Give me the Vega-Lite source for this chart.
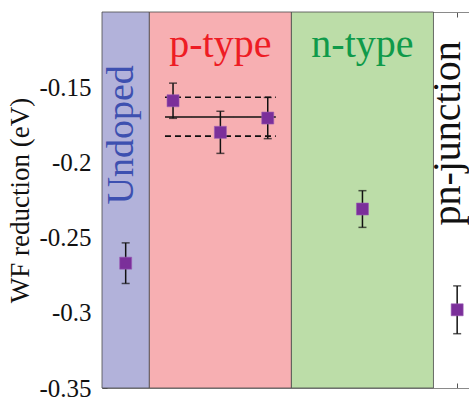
{
  "$schema": "https://vega.github.io/schema/vega-lite/v6.json",
  "autosize": "none",
  "padding": {"left": 102, "top": 12, "right": 0, "bottom": 12},
  "width": 367,
  "height": 376,
  "background": "white",
  "config": {
    "view": {"stroke": null},
    "font": "Liberation Serif",
    "axis": {"grid": false, "domainColor": "#8a8a8a", "tickColor": "#555", "labelFont": "Liberation Serif", "titleFont": "Liberation Serif", "labelColor": "#111", "titleColor": "#111", "titleFontWeight": "normal"}
  },
  "datasets": {
    "pts": [
      {"group": "Undoped", "x": 1, "y": -0.267, "lo": -0.2805, "hi": -0.2535},
      {"group": "p-type", "x": 2, "y": -0.159, "lo": -0.1707, "hi": -0.1473},
      {"group": "p-type", "x": 3, "y": -0.18, "lo": -0.194, "hi": -0.166},
      {"group": "p-type", "x": 4, "y": -0.1705, "lo": -0.1842, "hi": -0.1568},
      {"group": "n-type", "x": 6, "y": -0.231, "lo": -0.2432, "hi": -0.2188},
      {"group": "pn-junction", "x": 8, "y": -0.298, "lo": -0.3139, "hi": -0.2821}
    ]
  },
  "layer": [
    {
      "data": {"values": [
        {"band": "Undoped", "x0": 0.5, "x1": 1.5},
        {"band": "p-type", "x0": 1.5, "x1": 4.5},
        {"band": "n-type", "x0": 4.5, "x1": 7.5}
      ]},
      "mark": {"type": "rect", "stroke": "#4a4a4a", "strokeWidth": 0.8},
      "encoding": {
        "x": {"field": "x0", "type": "quantitative", "scale": {"domain": [0.5, 8.25], "nice": false, "zero": false},
              "axis": {"orient": "bottom", "values": [1,2,3,4,5,6,7,8], "labels": false, "tickSize": -5, "title": null}},
        "x2": {"field": "x1"},
        "y": {"datum": -0.35, "type": "quantitative", "scale": {"domain": [-0.35, -0.1], "nice": false, "zero": false},
              "axis": {"values": [-0.35, -0.3, -0.25, -0.2, -0.15], "format": ".2~f", "labelExpr": "replace(datum.label, '\u2212', '-')", "tickSize": -5, "labelPadding": 16, "labelFontSize": 25, "titleFontSize": 27, "title": "WF reduction (eV)", "titlePadding": 4}},
        "y2": {"datum": -0.1},
        "color": {"field": "band", "type": "nominal", "scale": {"domain": ["Undoped", "p-type", "n-type"], "range": ["#b2b2da", "#f7afb2", "#bcdda8"]}, "legend": null}
      }
    },
    {
      "data": {"values": [
        {"kind": "mean", "xa": 1.83, "xb": 4.17, "v": -0.1698},
        {"kind": "spread", "xa": 1.83, "xb": 4.17, "v": -0.1567},
        {"kind": "spread", "xa": 1.83, "xb": 4.17, "v": -0.1825}
      ]},
      "mark": {"type": "rule", "color": "#111", "strokeWidth": 1.6},
      "encoding": {
        "x": {"field": "xa", "type": "quantitative", "axis": null},
        "x2": {"field": "xb"},
        "y": {"field": "v", "type": "quantitative", "title": "WF reduction (eV)"},
        "strokeDash": {"field": "kind", "type": "nominal", "scale": {"domain": ["mean", "spread"], "range": [[1, 0], [6, 4]]}, "legend": null}
      }
    },
    {
      "data": {"name": "pts"},
      "mark": {"type": "rule", "color": "#111", "strokeWidth": 1.5},
      "encoding": {
        "x": {"field": "x", "type": "quantitative", "axis": null},
        "y": {"field": "lo", "type": "quantitative", "title": "WF reduction (eV)"},
        "y2": {"field": "hi"}
      }
    },
    {
      "data": {"name": "pts"},
      "mark": {"type": "tick", "orient": "horizontal", "color": "#111", "size": 8, "thickness": 1.5},
      "encoding": {
        "x": {"field": "x", "type": "quantitative", "axis": null},
        "y": {"field": "lo", "type": "quantitative", "title": "WF reduction (eV)"}
      }
    },
    {
      "data": {"name": "pts"},
      "mark": {"type": "tick", "orient": "horizontal", "color": "#111", "size": 8, "thickness": 1.5},
      "encoding": {
        "x": {"field": "x", "type": "quantitative", "axis": null},
        "y": {"field": "hi", "type": "quantitative", "title": "WF reduction (eV)"}
      }
    },
    {
      "data": {"name": "pts"},
      "mark": {"type": "point", "shape": "square", "filled": true, "size": 144, "color": "#7b2f9a", "opacity": 1, "stroke": "#9a5bb5", "strokeWidth": 0.6},
      "encoding": {
        "x": {"field": "x", "type": "quantitative", "axis": {"orient": "top", "values": [1,2,3,4,5,6,7,8], "labels": false, "tickSize": -5, "title": null}},
        "y": {"field": "y", "type": "quantitative", "title": "WF reduction (eV)"}
      }
    },
    {
      "data": {"values": [{"label": "p-type", "x": 3, "y": -0.13}]},
      "mark": {"type": "text", "font": "Liberation Serif", "fontSize": 40, "align": "center", "baseline": "alphabetic", "color": "#ee1c24"},
      "encoding": {
        "x": {"field": "x", "type": "quantitative", "axis": null},
        "y": {"field": "y", "type": "quantitative", "title": "WF reduction (eV)"},
        "text": {"field": "label"}
      }
    },
    {
      "data": {"values": [{"label": "n-type", "x": 6, "y": -0.13}]},
      "mark": {"type": "text", "font": "Liberation Serif", "fontSize": 40, "align": "center", "baseline": "alphabetic", "color": "#0f9a4a"},
      "encoding": {
        "x": {"field": "x", "type": "quantitative", "axis": null},
        "y": {"field": "y", "type": "quantitative", "title": "WF reduction (eV)"},
        "text": {"field": "label"}
      }
    },
    {
      "data": {"values": [{"label": "Undoped", "x": 1.15, "y": -0.1817}]},
      "mark": {"type": "text", "font": "Liberation Serif", "fontSize": 38, "align": "center", "baseline": "alphabetic", "angle": 270, "color": "#3d50b0"},
      "encoding": {
        "x": {"field": "x", "type": "quantitative", "axis": null},
        "y": {"field": "y", "type": "quantitative", "title": "WF reduction (eV)"},
        "text": {"field": "label"}
      }
    },
    {
      "data": {"values": [{"label": "pn-junction", "x": 8.07, "y": -0.1807}]},
      "mark": {"type": "text", "font": "Liberation Serif", "fontSize": 40, "align": "center", "baseline": "alphabetic", "angle": 270, "color": "#111"},
      "encoding": {
        "x": {"field": "x", "type": "quantitative", "axis": null},
        "y": {"field": "y", "type": "quantitative", "title": "WF reduction (eV)"},
        "text": {"field": "label"}
      }
    }
  ],
  "resolve": {"axis": {"x": "independent"}}
}
